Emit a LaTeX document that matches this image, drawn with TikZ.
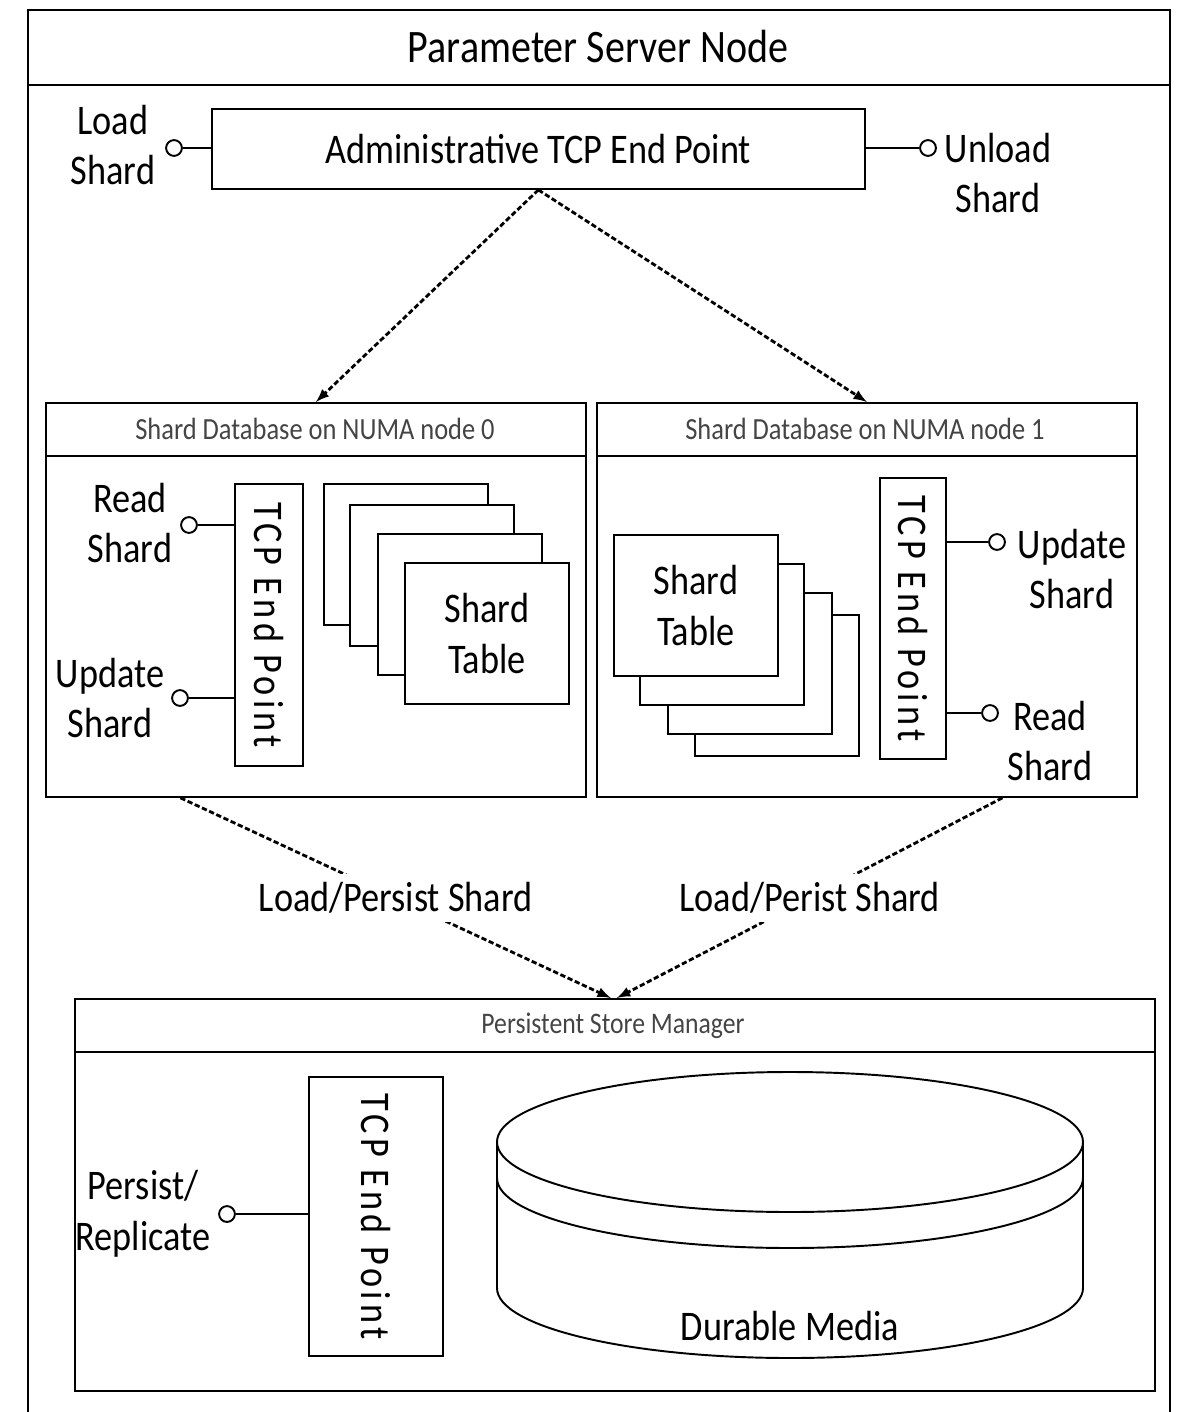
\documentclass[tikz,border=0pt]{standalone}
\usepackage{fontspec}
\setmainfont{Carlito}[FakeStretch=0.86]
\usetikzlibrary{calc,positioning,arrows}
\definecolor{headgray}{HTML}{444444}
\tikzset{
	box/.style={draw, line width=1.1pt, inner sep=0pt, anchor=north west},
	tablebox/.style={box, fill=white, minimum width=3.28cm, minimum height=2.82cm},
	sock/.style={draw, circle, line width=1.1pt, minimum size=9pt, inner sep=0pt, fill=white},
	wire/.style={line width=1.1pt},
	big/.style={font=\fontsize{24}{29}\selectfont, align=center},
	tcplabel/.style={font=\fontsize{24}{29}\selectfont\addfontfeatures{LetterSpace=10}, rotate=-90},
	head/.style={font=\fontsize{17.5}{20}\selectfont, text=headgray},
	dasharrow/.style={-latex, line width=1.6pt, dash pattern=on 3pt off 1.5pt},
}

\begin{document}
\begin{tikzpicture}[x=0.02cm, y=-0.02cm]
	\useasboundingbox (0,0) rectangle (1178,1412);
	% outer frame
	\draw[line width=1.6pt] (28,1412) -- (28,10) -- (1170,10) -- (1170,1412);
	\draw[line width=1.6pt] (28,85) -- (1170,85);
	\node[big, font=\fontsize{26.5}{30}\selectfont] (title) at (598,47) {Parameter Server Node};
	% admin end point
	\node[box, big, minimum width=13.06cm, minimum height=1.6cm] (admin) at (211,108) {Administrative TCP End Point};
	\node[sock] (sload) at (174,148) {};
	\draw[wire] (sload) -- (sload -| admin.west);
	\node[big] (lload) at (113,145) {Load\\Shard};
	\node[sock] (sunload) at (928,148) {};
	\draw[wire] (admin.east |- sunload) -- (sunload);
	\node[big] (lunload) at (998,173) {Unload\\Shard};
	% shard databases
	\node[box, minimum width=10.8cm, minimum height=7.88cm] (db0) at (45,402) {};
	\draw[line width=1.1pt] ($(db0.north west)+(0,54)$) -- ($(db0.north east)+(0,54)$);
	\node[head] (hdb0) at (315,429) {Shard Database on NUMA node 0};
	\node[box, minimum width=10.8cm, minimum height=7.88cm] (db1) at (596,402) {};
	\draw[line width=1.1pt] ($(db1.north west)+(0,54)$) -- ($(db1.north east)+(0,54)$);
	\node[head] (hdb1) at (865,429) {Shard Database on NUMA node 1};
	\draw[dasharrow] (admin.south) -- (db0.north);
	\draw[dasharrow] (admin.south) -- (db1.north);
	% node 0
	\node[box, minimum width=1.36cm, minimum height=5.64cm] (tcp0) at (234,483) {};
	\node[tcplabel] (ltcp0) at (tcp0.center) {TCP End Point};
	\node[sock] (sread0) at (189,525) {};
	\draw[wire] (sread0) -- (sread0 -| tcp0.west);
	\node[big] (lread0) at (130,523) {Read\\Shard};
	\node[sock] (supd0) at (180,698) {};
	\draw[wire] (supd0) -- (supd0 -| tcp0.west);
	\node[big] (lupd0) at (110,698) {Update\\Shard};
	\foreach \x/\y [count=\i] in {323/483, 349/504, 377/533, 404/562}
		\node[tablebox] (tab0-\i) at (\x,\y) {};
	\node[big] (ltab0) at (tab0-4.center) {Shard\\Table};
	% node 1
	\foreach \x/\y [count=\i] in {694/614, 667/592, 639/563, 613/534}
		\node[tablebox] (tab1-\i) at (\x,\y) {};
	\node[big] (ltab1) at (tab1-4.center) {Shard\\Table};
	\node[box, minimum width=1.32cm, minimum height=5.62cm] (tcp1) at (879,477) {};
	\node[tcplabel] (ltcp1) at (tcp1.center) {TCP End Point};
	\node[sock] (supd1) at (997,542) {};
	\draw[wire] (supd1 -| tcp1.east) -- (supd1);
	\node[big] (lupd1) at (1072,569) {Update\\Shard};
	\node[sock] (sread1) at (990,713) {};
	\draw[wire] (sread1 -| tcp1.east) -- (sread1);
	\node[big] (lread1) at (1050,741) {Read\\Shard};
	% persistent store
	\node[box, minimum width=21.6cm, minimum height=7.84cm] (psm) at (74,998) {};
	\draw[line width=1.1pt] ($(psm.north west)+(0,54)$) -- ($(psm.north east)+(0,54)$);
	\node[head, font=\fontsize{17}{20}\selectfont] (hpsm) at (613,1026) {Persistent Store Manager};
	\coordinate (out0) at ($(db0.south west)!0.25!(db0.south east)$);
	\coordinate (out1) at ($(db1.south west)!0.75!(db1.south east)$);
	\draw[dasharrow] (out0) -- node[big, fill=white, inner sep=5pt] (lpers0) {Load/Persist Shard} ($(psm.north)+(-4,0)$);
	\draw[dasharrow] (out1) -- node[big, fill=white, inner sep=5pt] (lpers1) {Load/Perist Shard} ($(psm.north)+(2,0)$);
	\node[box, minimum width=2.68cm, minimum height=5.58cm] (tcp2) at (308,1076) {};
	\node[tcplabel] (ltcp2) at (tcp2.center) {TCP End Point};
	\node[sock] (spers) at (227,1214) {};
	\draw[wire] (spers) -- (spers -| tcp2.west);
	\node[big] (lpers) at (143,1214) {Persist/\\Replicate};
	% durable media
	\draw[line width=1.1pt] (790,1142) ellipse [x radius=293, y radius=70];
	\draw[line width=1.1pt] (497,1142) -- (497,1288) arc[start angle=180, end angle=0, x radius=293, y radius=70] -- (1083,1142);
	\draw[line width=1.1pt] (497,1178) arc[start angle=180, end angle=0, x radius=293, y radius=70];
	\node[big] (lmedia) at (790,1326) {Durable Media};
\end{tikzpicture}
\end{document}
